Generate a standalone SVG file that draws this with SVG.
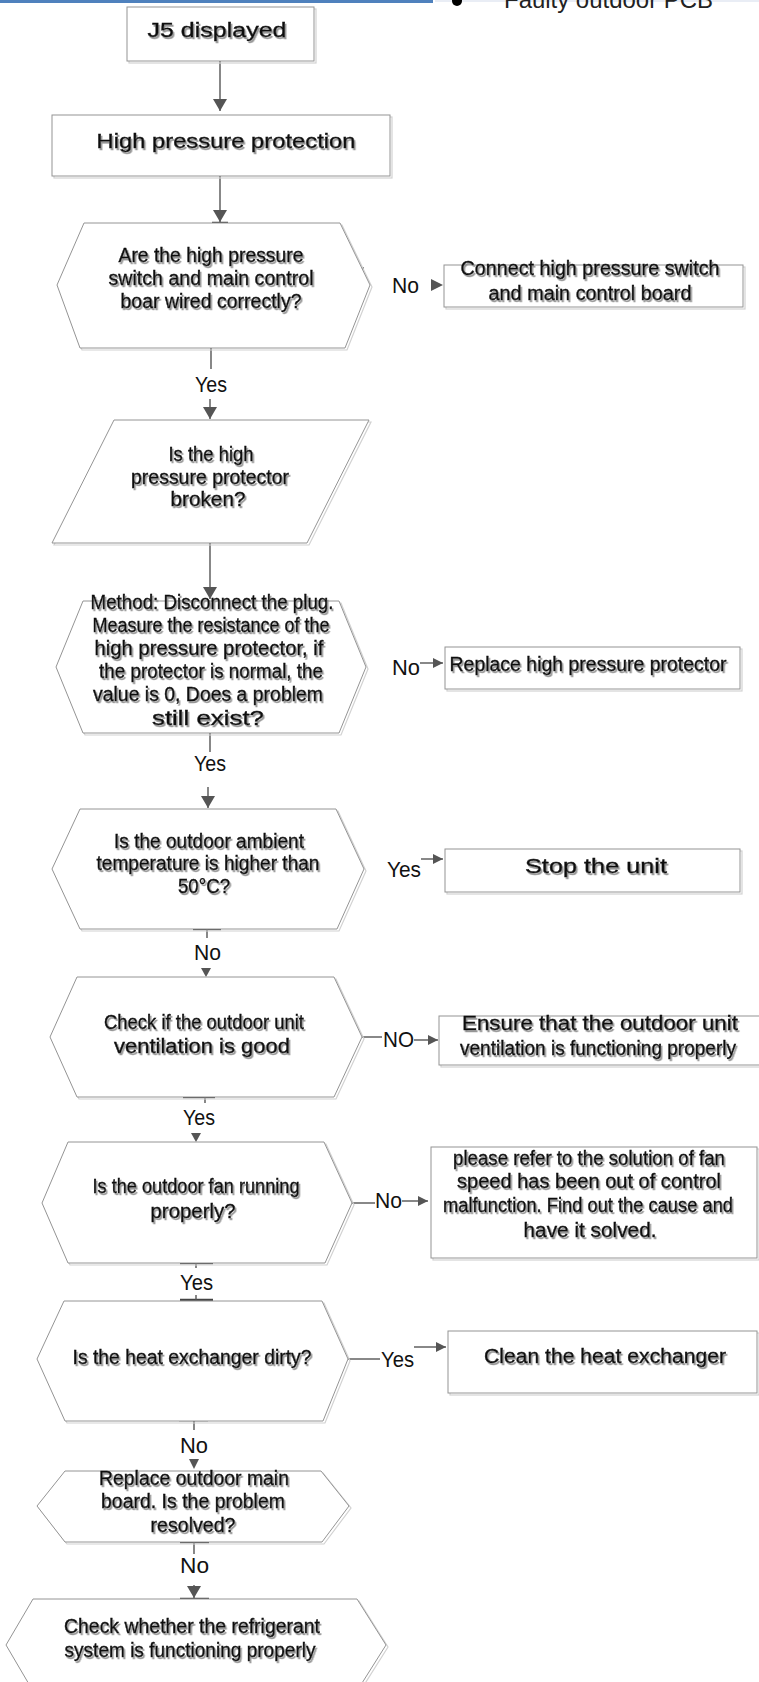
<svg xmlns="http://www.w3.org/2000/svg" width="759" height="1682" viewBox="0 0 759 1682">
<defs>
<style>
.sh{fill:none;stroke:#d2d2d2;stroke-width:1.2}
.nd{fill:#fff;stroke:#949494;stroke-width:1}
.t{font-family:"Liberation Sans",Arial,sans-serif;font-size:20px;fill:#111;stroke:#111;stroke-width:0.4;text-anchor:middle;filter:url(#ds)}
.l{font-family:"Liberation Sans",Arial,sans-serif;font-size:22px;fill:#111}
.c{fill:none;stroke:#555;stroke-width:1.4}
.b{fill:none;stroke:#444;stroke-width:2.5}
.h{fill:#555;stroke:none}
</style>
<filter id="ds" x="-5%" y="-20%" width="110%" height="150%">
<feDropShadow dx="1.5" dy="2" stdDeviation="0.3" flood-color="#8a8a8a" flood-opacity="0.9"/>
</filter>
<marker id="ab" markerUnits="userSpaceOnUse" markerWidth="12" markerHeight="14" refX="12" refY="7" orient="auto">
<path d="M0,0 L12,7 L0,14 z" fill="#555"/>
</marker>
<marker id="as" markerUnits="userSpaceOnUse" markerWidth="10" markerHeight="10" refX="10" refY="5" orient="auto">
<path d="M0,0 L10,5 L0,10 z" fill="#555"/>
</marker>
</defs>
<rect width="759" height="1682" fill="#fff"/>

<g id="header">
<rect x="0" y="0" width="433" height="3" fill="#4f81bd"/>
<rect x="435" y="0" width="324" height="2" fill="#e9edf5"/>
<circle cx="457" cy="1" r="5" fill="#000"/>
<text x="504" y="8" font-family="Liberation Sans, Arial, sans-serif" font-size="24" fill="#222" textLength="209" lengthAdjust="spacingAndGlyphs">Faulty outdoor PCB</text>
</g>

<g id="connectors">
<line class="c" x1="220" y1="61" x2="220" y2="111" marker-end="url(#ab)"/>
<line class="c" x1="220" y1="176" x2="220" y2="222" marker-end="url(#ab)"/>
<line class="b" x1="212" y1="223" x2="228" y2="223"/>
<polygon class="h" points="431,279 443,285 431,291"/>
<line class="c" x1="358" y1="268" x2="364" y2="268"/>
<line class="c" x1="211" y1="348" x2="211" y2="369"/>
<line class="c" x1="210" y1="399" x2="210" y2="419" marker-end="url(#ab)"/>
<line class="c" x1="210" y1="543" x2="210" y2="599" marker-end="url(#ab)"/>
<line class="c" x1="420" y1="663" x2="443" y2="663" marker-end="url(#as)"/>
<line class="c" x1="210" y1="733" x2="210" y2="752"/>
<line class="c" x1="208" y1="787" x2="208" y2="808" marker-end="url(#ab)"/>
<line class="c" x1="421" y1="859" x2="443" y2="859" marker-end="url(#as)"/>
<line class="b" x1="193" y1="929" x2="221" y2="929"/>
<line class="c" x1="207" y1="929" x2="207" y2="938"/>
<polygon class="h" points="201,968 211,968 206,977"/>
<line class="c" x1="362" y1="1037" x2="382" y2="1037"/>
<line class="c" x1="414" y1="1040" x2="438" y2="1040" marker-end="url(#as)"/>
<line class="b" x1="183" y1="1097" x2="215" y2="1097"/>
<line class="c" x1="205" y1="1097" x2="205" y2="1103"/>
<polygon class="h" points="191,1133 201,1133 196,1142"/>
<line class="c" x1="348" y1="1203" x2="375" y2="1203"/>
<line class="c" x1="402" y1="1201" x2="428" y2="1201" marker-end="url(#as)"/>
<line class="b" x1="180" y1="1263" x2="213" y2="1263"/>
<line class="c" x1="196" y1="1263" x2="196" y2="1268"/>
<line class="b" x1="180" y1="1300" x2="213" y2="1300"/>
<line class="c" x1="196" y1="1295" x2="196" y2="1300"/>
<line class="c" x1="348" y1="1359" x2="380" y2="1359"/>
<line class="c" x1="414" y1="1347" x2="446" y2="1347" marker-end="url(#as)"/>
<line class="b" x1="179" y1="1420" x2="208" y2="1420"/>
<line class="c" x1="194" y1="1420" x2="194" y2="1430"/>
<polygon class="h" points="189,1459 199,1459 194,1469"/>
<line class="b" x1="180" y1="1542" x2="209" y2="1542"/>
<line class="c" x1="194" y1="1542" x2="194" y2="1554"/>
<line class="c" x1="194" y1="1585" x2="194" y2="1598" marker-end="url(#ab)"/>
<line class="b" x1="180" y1="1599" x2="209" y2="1599"/>
<text class="l" x="392" y="293" textLength="27" lengthAdjust="spacingAndGlyphs">No</text>
<text class="l" x="195" y="392" textLength="32" lengthAdjust="spacingAndGlyphs">Yes</text>
<text class="l" x="392" y="675" textLength="28" lengthAdjust="spacingAndGlyphs">No</text>
<text class="l" x="194" y="771" textLength="32" lengthAdjust="spacingAndGlyphs">Yes</text>
<text class="l" x="387" y="877" textLength="34" lengthAdjust="spacingAndGlyphs">Yes</text>
<text class="l" x="194" y="960" textLength="27" lengthAdjust="spacingAndGlyphs">No</text>
<text class="l" x="383" y="1047" textLength="31" lengthAdjust="spacingAndGlyphs">NO</text>
<text class="l" x="183" y="1125" textLength="32" lengthAdjust="spacingAndGlyphs">Yes</text>
<text class="l" x="375" y="1208" textLength="27" lengthAdjust="spacingAndGlyphs">No</text>
<text class="l" x="180" y="1290" textLength="33" lengthAdjust="spacingAndGlyphs">Yes</text>
<text class="l" x="381" y="1367" textLength="33" lengthAdjust="spacingAndGlyphs">Yes</text>
<text class="l" x="180" y="1453" textLength="28" lengthAdjust="spacingAndGlyphs">No</text>
<text class="l" x="180" y="1573" textLength="29" lengthAdjust="spacingAndGlyphs">No</text>
</g>

<g id="n1">
<rect class="sh" x="129" y="9" width="187" height="54"/>
<rect class="nd" x="127" y="7" width="187" height="54"/>
<text class="t" x="217" y="37" font-size="23" textLength="139" lengthAdjust="spacingAndGlyphs">J5 displayed</text>
</g>

<g id="n2">
<rect class="sh" x="54" y="117" width="338" height="61"/>
<rect class="nd" x="52" y="115" width="338" height="61"/>
<text class="t" x="226" y="148" font-size="24" textLength="259" lengthAdjust="spacingAndGlyphs">High pressure protection</text>
</g>

<g id="n3">
<polygon class="sh" points="86,225 342,225 372,287 347,350 82,350 59,287"/>
<polygon class="nd" points="84,223 340,223 370,285 345,348 80,348 57,285"/>
<text class="t" x="211" y="262" textLength="185" lengthAdjust="spacingAndGlyphs">Are the high pressure</text>
<text class="t" x="211" y="285" textLength="205" lengthAdjust="spacingAndGlyphs">switch and main control</text>
<text class="t" x="211" y="308" textLength="181" lengthAdjust="spacingAndGlyphs">boar wired correctly?</text>
</g>

<g id="n4">
<rect class="sh" x="446" y="267" width="299" height="42"/>
<rect class="nd" x="444" y="265" width="299" height="42"/>
<text class="t" x="590" y="275" textLength="259" lengthAdjust="spacingAndGlyphs">Connect high pressure switch</text>
<text class="t" x="590" y="300" textLength="203" lengthAdjust="spacingAndGlyphs">and main control board</text>
</g>

<g id="n5">
<polygon class="sh" points="116,422 371,422 309,545 54,545"/>
<polygon class="nd" points="114,420 369,420 307,543 52,543"/>
<text class="t" x="211" y="461" textLength="85" lengthAdjust="spacingAndGlyphs">Is the high</text>
<text class="t" x="210" y="484" textLength="158" lengthAdjust="spacingAndGlyphs">pressure protector</text>
<text class="t" x="208" y="506" textLength="75" lengthAdjust="spacingAndGlyphs">broken?</text>
</g>

<g id="n6">
<polygon class="sh" points="85,603 341,603 368,669 341,735 85,735 58,669"/>
<polygon class="nd" points="83,601 339,601 366,667 339,733 83,733 56,667"/>
<text class="t" x="212" y="609" textLength="243" lengthAdjust="spacingAndGlyphs">Method: Disconnect the plug.</text>
<text class="t" x="211" y="632" textLength="237" lengthAdjust="spacingAndGlyphs">Measure the resistance of the</text>
<text class="t" x="209" y="655" textLength="229" lengthAdjust="spacingAndGlyphs">high pressure protector, if</text>
<text class="t" x="211" y="678" textLength="224" lengthAdjust="spacingAndGlyphs">the protector is normal, the</text>
<text class="t" x="208" y="701" textLength="230" lengthAdjust="spacingAndGlyphs">value is 0, Does a problem</text>
<text class="t" x="208" y="725" textLength="112" lengthAdjust="spacingAndGlyphs">still exist?</text>
</g>

<g id="n7">
<rect class="sh" x="447" y="649" width="295" height="42"/>
<rect class="nd" x="445" y="647" width="295" height="42"/>
<text class="t" x="588" y="671" textLength="277" lengthAdjust="spacingAndGlyphs">Replace high pressure protector</text>
</g>

<g id="n8">
<polygon class="sh" points="82,811 338,811 366,871 339,931 82,931 54,871"/>
<polygon class="nd" points="80,809 336,809 364,869 337,929 80,929 52,869"/>
<text class="t" x="209" y="848" textLength="190" lengthAdjust="spacingAndGlyphs">Is the outdoor ambient</text>
<text class="t" x="208" y="870" textLength="223" lengthAdjust="spacingAndGlyphs">temperature is higher than</text>
<text class="t" x="204" y="893" textLength="52" lengthAdjust="spacingAndGlyphs">50°C?</text>
</g>

<g id="n9">
<rect class="sh" x="447" y="851" width="295" height="43"/>
<rect class="nd" x="445" y="849" width="295" height="43"/>
<text class="t" x="596" y="873" font-size="25" textLength="142" lengthAdjust="spacingAndGlyphs">Stop the unit</text>
</g>

<g id="n10">
<polygon class="sh" points="79,979 336,979 364,1039 336,1099 79,1099 52,1039"/>
<polygon class="nd" points="77,977 334,977 362,1037 334,1097 77,1097 50,1037"/>
<text class="t" x="204" y="1029" textLength="200" lengthAdjust="spacingAndGlyphs">Check if the outdoor unit</text>
<text class="t" x="202" y="1053" textLength="176" lengthAdjust="spacingAndGlyphs">ventilation is good</text>
</g>

<g id="n11">
<rect class="sh" x="441" y="1018" width="322" height="49"/>
<rect class="nd" x="439" y="1016" width="322" height="49"/>
<text class="t" x="600" y="1030" textLength="276" lengthAdjust="spacingAndGlyphs">Ensure that the outdoor unit</text>
<text class="t" x="598" y="1055" textLength="276" lengthAdjust="spacingAndGlyphs">ventilation is functioning properly</text>
</g>

<g id="n12">
<polygon class="sh" points="70,1144 326,1144 354,1205 327,1265 70,1265 44,1205"/>
<polygon class="nd" points="68,1142 324,1142 352,1203 325,1263 68,1263 42,1203"/>
<text class="t" x="196" y="1193" textLength="207" lengthAdjust="spacingAndGlyphs">Is the outdoor fan running</text>
<text class="t" x="193" y="1218" textLength="85" lengthAdjust="spacingAndGlyphs">properly?</text>
</g>

<g id="n13">
<rect class="sh" x="433" y="1149" width="326" height="111"/>
<rect class="nd" x="431" y="1147" width="326" height="111"/>
<text class="t" x="589" y="1165" textLength="272" lengthAdjust="spacingAndGlyphs">please refer to the solution of fan</text>
<text class="t" x="589" y="1188" textLength="264" lengthAdjust="spacingAndGlyphs">speed has been out of control</text>
<text class="t" x="588" y="1212" textLength="290" lengthAdjust="spacingAndGlyphs">malfunction. Find out the cause and</text>
<text class="t" x="590" y="1237" textLength="133" lengthAdjust="spacingAndGlyphs">have it solved.</text>
</g>

<g id="n14">
<polygon class="sh" points="66,1303 324,1303 350,1361 325,1423 67,1423 39,1361"/>
<polygon class="nd" points="64,1301 322,1301 348,1359 323,1421 65,1421 37,1359"/>
<text class="t" x="192" y="1364" textLength="239" lengthAdjust="spacingAndGlyphs">Is the heat exchanger dirty?</text>
</g>

<g id="n15">
<rect class="sh" x="450" y="1333" width="309" height="62"/>
<rect class="nd" x="448" y="1331" width="309" height="62"/>
<text class="t" x="605" y="1363" textLength="242" lengthAdjust="spacingAndGlyphs">Clean the heat exchanger</text>
</g>

<g id="n16">
<polygon class="sh" points="67,1473 323,1473 351,1508 324,1544 67,1544 39,1508"/>
<polygon class="nd" points="65,1471 321,1471 349,1506 322,1542 65,1542 37,1506"/>
<text class="t" x="194" y="1485" textLength="190" lengthAdjust="spacingAndGlyphs">Replace outdoor main</text>
<text class="t" x="193" y="1508" textLength="184" lengthAdjust="spacingAndGlyphs">board. Is the problem</text>
<text class="t" x="193" y="1532" textLength="85" lengthAdjust="spacingAndGlyphs">resolved?</text>
</g>

<g id="n17">
<polygon class="sh" points="35,1601 359,1601 388,1647 359,1693 35,1693 8,1647"/>
<polygon class="nd" points="33,1599 357,1599 386,1645 357,1691 33,1691 6,1645"/>
<text class="t" x="192" y="1633" textLength="256" lengthAdjust="spacingAndGlyphs">Check whether the refrigerant</text>
<text class="t" x="190" y="1657" textLength="251" lengthAdjust="spacingAndGlyphs">system is functioning properly</text>
</g>
</svg>
